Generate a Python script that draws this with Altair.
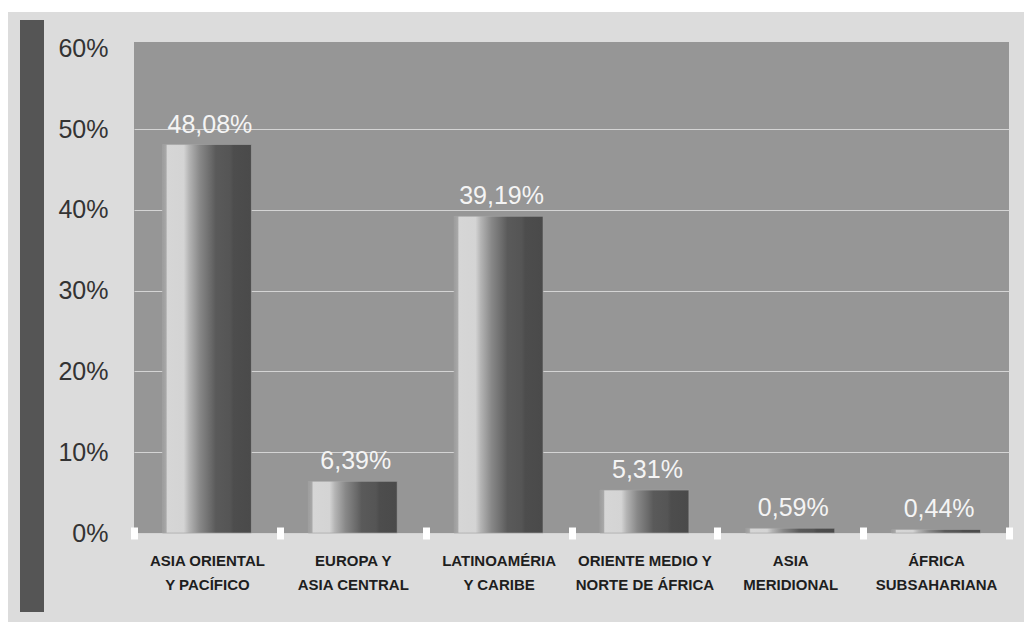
import altair as alt
import pandas as pd

categories = [
    "ASIA ORIENTAL|Y PACÍFICO",
    "EUROPA Y|ASIA CENTRAL",
    "LATINOAMÉRIA|Y CARIBE",
    "ORIENTE MEDIO Y|NORTE DE ÁFRICA",
    "ASIA|MERIDIONAL",
    "ÁFRICA|SUBSAHARIANA",
]
values = [48.08, 6.39, 39.19, 5.31, 0.59, 0.44]
y_ticks = [0, 10, 20, 30, 40, 50, 60]

df = pd.DataFrame({"cat": categories, "value": values})

W, H = 875, 491
LEFT, TOP = 134, 42

x_enc = alt.X(
    "cat:N",
    sort=categories,
    scale=alt.Scale(paddingInner=0, paddingOuter=0),
    axis=alt.Axis(
        title=None,
        labelExpr="split(datum.label, '|')",
        labelAngle=0,
        labelFont="Liberation Sans",
        labelFontSize=15,
        labelFontWeight="bold",
        labelColor="#1e1e1e",
        labelLineHeight=24,
        labelPadding=14,
        labelBaseline="top",
        domain=False,
        ticks=True,
        tickBand="extent",
        tickColor="#ffffff",
        tickWidth=7,
        tickSize=12,
        offset=-6,
        grid=False,
        zindex=2,
    ),
)
y_enc = alt.Y(
    "value:Q",
    scale=alt.Scale(domain=[0, 60.77], nice=False),
    axis=alt.Axis(
        title=None,
        values=y_ticks,
        labelExpr="datum.value + '%'",
        labelFont="Liberation Sans",
        labelFontSize=25,
        labelColor="#333333",
        labelPadding=26,
        domain=False,
        ticks=False,
        grid=True,
        gridColor="#d4d4d4",
        gridWidth=1,
        gridOpacity=alt.condition("datum.value >= 60", alt.value(0), alt.value(1)),
    ),
)

grad = alt.Gradient(
    gradient="linear",
    x1=0, y1=0, x2=1, y2=0,
    stops=[
        alt.GradientStop(offset=0.0, color="#9c9c9c"),
        alt.GradientStop(offset=0.04, color="#a8a8a8"),
        alt.GradientStop(offset=0.055, color="#d6d6d6"),
        alt.GradientStop(offset=0.24, color="#d4d4d4"),
        alt.GradientStop(offset=0.3, color="#b4b4b4"),
        alt.GradientStop(offset=0.42, color="#888888"),
        alt.GradientStop(offset=0.55, color="#686868"),
        alt.GradientStop(offset=0.6, color="#5a5a5a"),
        alt.GradientStop(offset=0.76, color="#555555"),
        alt.GradientStop(offset=0.8, color="#4d4d4d"),
        alt.GradientStop(offset=1.0, color="#4a4a4a"),
    ],
)

base = alt.Chart(df)

bars = base.mark_bar(
    color=grad, stroke="#a4a4a4", strokeWidth=1, strokeOpacity=0.6,
    width=alt.RelativeBandSize(0.61),
).encode(x=x_enc, y=y_enc)

labels = base.transform_calculate(
    lab="replace(format(datum.value, '.2f'), '.', ',') + '%'"
).mark_text(
    font="Liberation Sans", fontSize=25, color="#f4f4f4", baseline="alphabetic", dy=-12, dx=3
).encode(x=alt.X("cat:N", sort=categories), y="value:Q", text="lab:N")

deco = pd.DataFrame({"k": [0]})
dark_bar = alt.Chart(deco).mark_rect(color="#555555").encode(
    x=alt.value(20 - LEFT), x2=alt.value(44 - LEFT),
    y=alt.value(20 - TOP), y2=alt.value(612 - TOP),
)
white_left = alt.Chart(deco).mark_rect(color="#ffffff").encode(
    x=alt.value(0 - LEFT), x2=alt.value(8 - LEFT),
    y=alt.value(0 - TOP), y2=alt.value(622 - TOP),
)
white_top = alt.Chart(deco).mark_rect(color="#ffffff").encode(
    x=alt.value(0 - LEFT), x2=alt.value(1024 - LEFT),
    y=alt.value(0 - TOP), y2=alt.value(12 - TOP),
)

chart = alt.layer(white_left, white_top, dark_bar, bars, labels).properties(
    width=W,
    height=H,
    background="#dcdcdc",
    padding={"left": LEFT, "top": TOP, "right": 1024 - LEFT - W, "bottom": 622 - TOP - H},
    autosize=alt.AutoSizeParams(type="none"),
).configure_view(fill="#969696", stroke=None)

chart.save("out.html", embed_options={"renderer": "svg", "actions": False})
